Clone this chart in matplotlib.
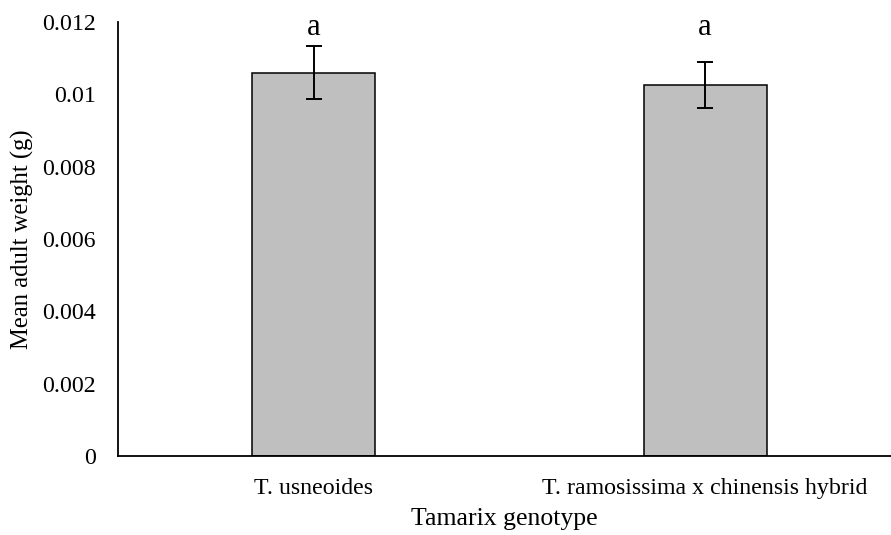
import numpy as np
import matplotlib
matplotlib.use('Agg')
import matplotlib.pyplot as plt

# data
genotypes = ['T. usneoides', 'T. ramosissima x chinensis hybrid']
mean_weight = [0.0106, 0.01025]
err_weight = [0.00074, 0.00064]
letters = ['a', 'a']
yticks = [0, 0.002, 0.004, 0.006, 0.008, 0.01, 0.012]
ytick_labels = ['0', '0.002', '0.004', '0.006', '0.008', '0.01', '0.012']

plt.rcParams['font.family'] = ['Liberation Serif', 'DejaVu Serif']

fig = plt.figure(figsize=(8.91, 5.35), dpi=100)
ax = fig.add_axes([118/891, 79/535, 773/891, 434/535])

x = np.arange(len(genotypes))
ax.bar(x, mean_weight, width=0.314, color='#bfbfbf', edgecolor='black', linewidth=1.1, zorder=2)
ax.errorbar(x, mean_weight, yerr=err_weight, fmt='none', ecolor='black',
            elinewidth=1.4, capsize=6, capthick=1.4, zorder=3)

for xi, lab in zip(x, letters):
    ax.text(xi, 0.01164, lab, ha='center', va='baseline', fontsize=22, clip_on=False)

ax.set_xlim(-0.5, 1.475)
ax.set_ylim(0, 0.012)
ax.set_xticks(x)
ax.set_xticklabels(genotypes, fontsize=17.2)
ax.set_yticks(yticks)
ax.set_yticklabels(ytick_labels, fontsize=17.2)
ax.tick_params(axis='both', length=0)
ax.tick_params(axis='y', pad=16)
ax.tick_params(axis='x', pad=16)

for s in ['top', 'right']:
    ax.spines[s].set_visible(False)
for s in ['left', 'bottom']:
    ax.spines[s].set_linewidth(1.3)

ax.set_xlabel('Tamarix genotype', fontsize=18.5, labelpad=6)
ax.set_ylabel('Mean adult weight (g)', fontsize=17.7, labelpad=6)

plt.savefig('out.png', dpi=100)
